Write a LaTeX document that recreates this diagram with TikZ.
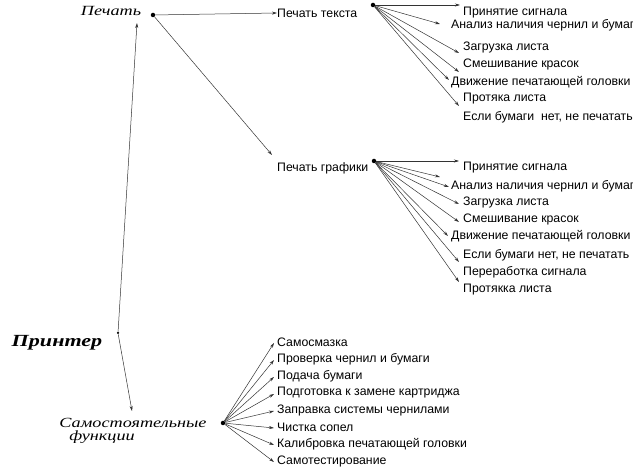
\documentclass[tikz,border=0pt]{standalone}
\usepackage{fontspec}
\setmainfont{Liberation Sans}
\newfontfamily\headfont[FakeStretch=1.3]{Liberation Serif}
\usetikzlibrary{arrows.meta}

\tikzset{
  item/.style={anchor=west,inner sep=0pt,font=\fontsize{12.3}{12}\selectfont},
  head/.style={inner sep=0pt,font=\headfont\itshape\fontsize{14}{13}\selectfont},
  link/.style={line width=0.5pt,draw=black!80,-{Stealth[length=5pt,width=3pt]}},
  hub/.style={circle,fill,inner sep=0pt,minimum size=4.5pt},
  joint/.style={circle,fill,inner sep=0pt,minimum size=2.5pt}
}

\begin{document}
\begin{tikzpicture}[x=1pt,y=-1pt]
\useasboundingbox (0,0) rectangle (633,470);

\node[head] (pechat) at (111,11) {Печать};
\node[head,font=\headfont\bfseries\itshape\fontsize{17}{17}\selectfont] (printer) at (57,343) {Принтер};
\node[head,align=left,font=\headfont\itshape\fontsize{14}{12.5}\selectfont] (self) at (133,431) {Самостоятельные\\\hspace*{10pt}функции};

\node[joint] (root) at (118,333) {};
\node[hub] (hpechat) at (153,15) {};
\node[hub] (hself) at (223,423) {};

\coordinate (pechat tip) at (137,23);
\coordinate (self tip) at (132,411);
\draw[link] (root) -- (pechat tip);
\draw[link] (root) -- (self tip);

\node[item] (text) at (277,13) {Печать текста};
\node[item] (graph) at (277,168) {Печать графики};
\coordinate (graph tip) at (272,155);
\draw[link] (hpechat) -- (text.west);
\draw[link] (hpechat) -- (graph tip);

\node[hub] (htext) at (373,5) {};
\node[hub] (hgraph) at (374,161) {};

\foreach \i/\tx/\ty/\nx/\ny/\txt in {
  1/460/5/463/13/{Принятие сигнала},
  2/440/24/451/25/{Анализ наличия чернил и бумаги},
  3/459/53/463/47/{Загрузка листа},
  4/459/72/463/64/{Смешивание красок},
  5/449/80/451/82/{Движение печатающей головки},
  6/459/106/463/99/{Протяка листа}}
{
  \node[item] (t\i) at (\nx,\ny) {\txt};
  \coordinate (ta\i) at (\tx,\ty);
  \draw[link] (htext) -- (ta\i);
}
\node[item] (t7) at (463,117) {Если бумаги \ нет, не печатать};

\foreach \i/\tx/\ty/\nx/\ny/\txt in {
  1/459/161/463/168/{Принятие сигнала},
  2/449/187/451/186/{Анализ наличия чернил и бумаги},
  3/459/204/463/202/{Загрузка листа},
  4/459/222/463/219/{Смешивание красок},
  5/448/236/451/236/{Движение печатающей головки},
  6/459/262/463/255/{Если бумаги нет, не печатать},
  7/459/282/463/272/{Переработка сигнала},
  8/440/177/463/290/{Протякка листа}}
{
  \node[item] (g\i) at (\nx,\ny) {\txt};
  \coordinate (ga\i) at (\tx,\ty);
  \draw[link] (hgraph) -- (ga\i);
}

\foreach \i/\ny/\txt in {
  1/342/{Самосмазка},
  2/359/{Проверка чернил и бумаги},
  3/376/{Подача бумаги},
  4/393/{Подготовка к замене картриджа},
  5/410/{Заправка системы чернилами},
  6/427/{Чистка сопел},
  7/444/{Калибровка печатающей головки},
  8/461/{Самотестирование}}
{
  \node[item] (s\i) at (277,\ny) {\txt};
  \draw[link] (hself) -- ([xshift=-3pt,yshift=-1pt]s\i.west);
}
\end{tikzpicture}
\end{document}
